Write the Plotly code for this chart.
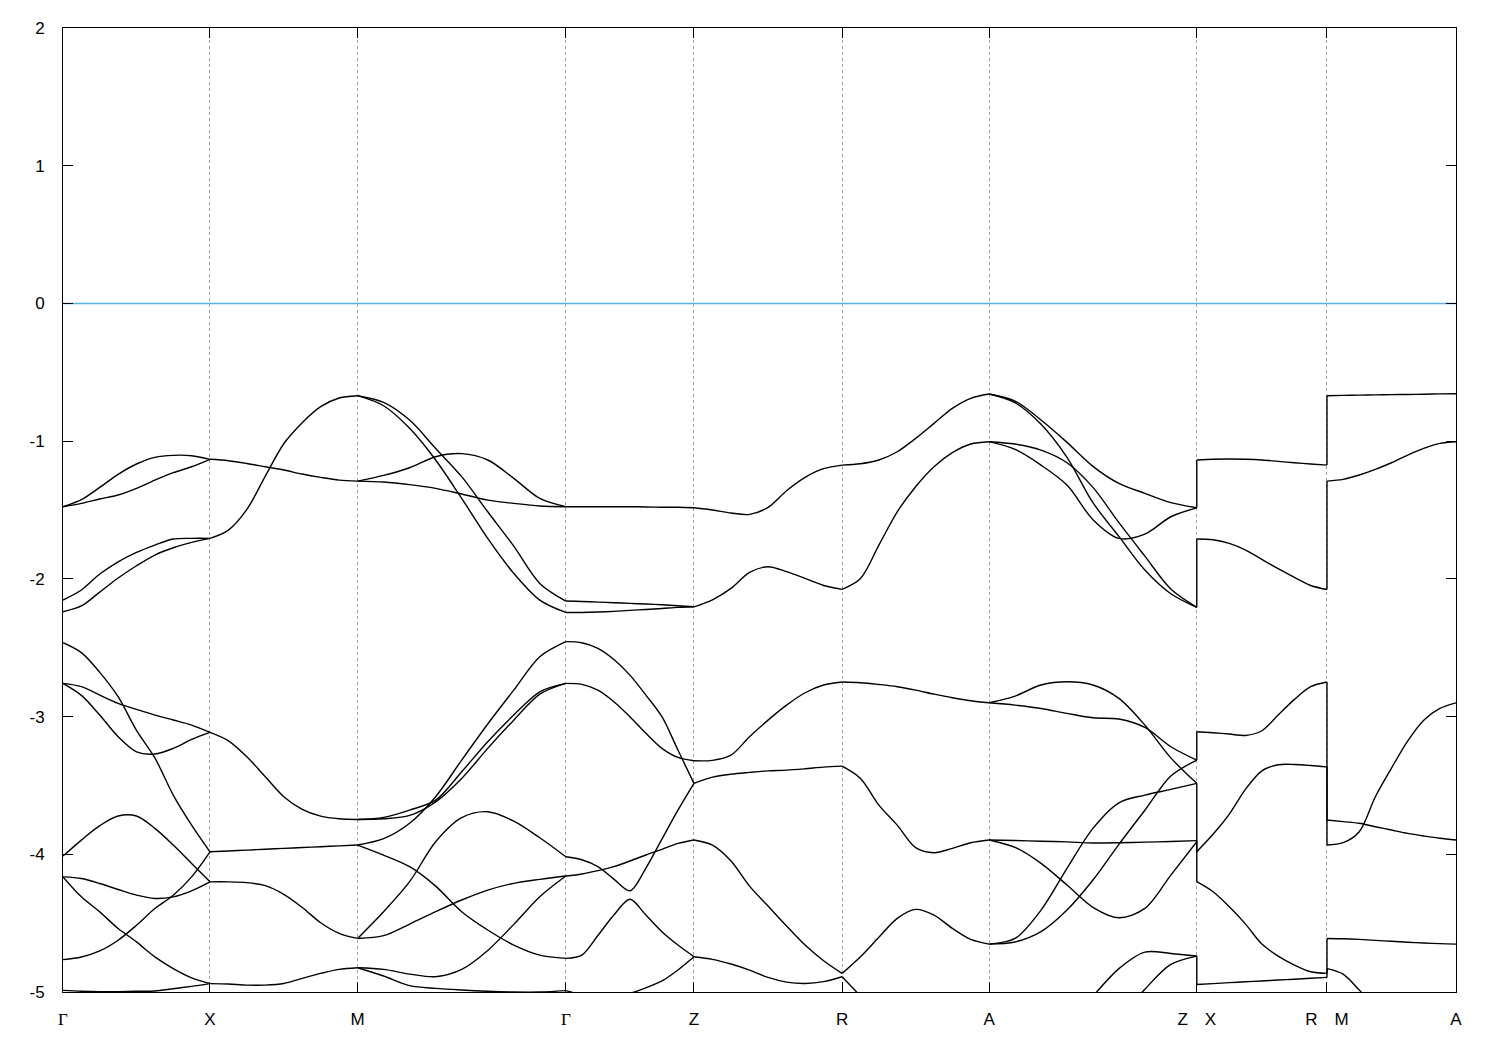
import numpy as np
import plotly.graph_objects as go

# ---- high-symmetry points along the k-path ----
kpoint_labels = ["<span style='font-family:Liberation Serif'>Γ</span>", "X", "M",
                 "<span style='font-family:Liberation Serif'>Γ</span>", "Z", "R", "A",
                 "Z\u2003X", "R\u2003M", "A"]
kpoint_pos = [0.0, 0.499, 1.0, 1.707, 2.142, 2.645, 3.144, 3.849, 4.291, 4.729]
energy_ticks = [-5, -4, -3, -2, -1, 0, 1, 2]
energy_tick_text = ["-5", "-4", "-3", "-2", "-1", "0", "1", "2"]
fermi_level = 0.0

# ---- band energies (eV), 9 evenly spaced samples per path segment ----
seg_G_X = [
    [-1.476, -1.425, -1.336, -1.241, -1.166, -1.118, -1.103, -1.106, -1.132],
    [-1.476, -1.452, -1.420, -1.391, -1.343, -1.283, -1.229, -1.186, -1.132],
    [-2.154, -2.081, -1.965, -1.876, -1.808, -1.755, -1.711, -1.706, -1.706],
    [-2.239, -2.197, -2.096, -1.994, -1.905, -1.827, -1.774, -1.735, -1.706],
    [-2.464, -2.536, -2.679, -2.856, -3.100, -3.300, -3.570, -3.788, -3.982],
    [-2.759, -2.783, -2.844, -2.904, -2.948, -2.989, -3.025, -3.062, -3.115],
    [-2.759, -2.846, -2.989, -3.146, -3.256, -3.272, -3.231, -3.166, -3.115],
    [-4.013, -3.897, -3.792, -3.722, -3.722, -3.812, -3.933, -4.067, -4.200],
    [-4.164, -4.176, -4.212, -4.256, -4.297, -4.321, -4.309, -4.265, -4.200],
    [-4.164, -4.309, -4.418, -4.539, -4.636, -4.745, -4.830, -4.897, -4.939],
    [-4.765, -4.746, -4.702, -4.624, -4.515, -4.394, -4.297, -4.164, -3.982],
    [-4.988, -4.995, -4.998, -4.997, -4.995, -4.993, -4.976, -4.959, -4.939],
]
seg_X_M = [
    [-1.132, -1.142, -1.162, -1.186, -1.210, -1.239, -1.263, -1.283, -1.290],
    [-1.706, -1.646, -1.496, -1.254, -1.019, -0.866, -0.750, -0.687, -0.670],
    [-3.115, -3.176, -3.292, -3.437, -3.582, -3.674, -3.723, -3.742, -3.747],
    [-3.982, -3.976, -3.970, -3.963, -3.957, -3.951, -3.945, -3.939, -3.933],
    [-4.200, -4.200, -4.206, -4.228, -4.291, -4.386, -4.497, -4.574, -4.611],
    [-4.939, -4.942, -4.950, -4.950, -4.938, -4.901, -4.865, -4.836, -4.824],
]
seg_M_G = [
    [-0.670, -0.718, -0.847, -1.053, -1.258, -1.513, -1.762, -2.033, -2.161],
    [-0.670, -0.743, -0.907, -1.137, -1.416, -1.706, -1.960, -2.154, -2.244],
    [-1.290, -1.249, -1.193, -1.113, -1.091, -1.137, -1.270, -1.416, -1.476],
    [-1.290, -1.297, -1.316, -1.343, -1.384, -1.428, -1.452, -1.471, -1.476],
    [-3.933, -3.887, -3.775, -3.582, -3.316, -3.054, -2.808, -2.565, -2.456],
    [-3.747, -3.732, -3.679, -3.607, -3.401, -3.183, -2.989, -2.820, -2.759],
    [-3.747, -3.742, -3.718, -3.619, -3.449, -3.231, -3.026, -2.837, -2.759],
    [-4.611, -4.417, -4.199, -3.909, -3.734, -3.691, -3.759, -3.880, -4.018],
    [-4.611, -4.591, -4.507, -4.417, -4.332, -4.260, -4.211, -4.182, -4.158],
    [-3.933, -4.006, -4.090, -4.231, -4.417, -4.550, -4.659, -4.732, -4.756],
    [-4.824, -4.836, -4.870, -4.889, -4.836, -4.698, -4.509, -4.308, -4.158],
    [-4.824, -4.884, -4.954, -4.974, -4.986, -4.995, -5.000, -5.000, -4.990],
]
seg_G_Z = [
    [-1.476, -1.476, -1.476, -1.476, -1.476, -1.478, -1.480, -1.480, -1.484],
    [-2.161, -2.164, -2.169, -2.173, -2.178, -2.183, -2.188, -2.195, -2.203],
    [-2.244, -2.244, -2.241, -2.236, -2.229, -2.222, -2.215, -2.207, -2.203],
    [-2.456, -2.464, -2.505, -2.585, -2.699, -2.844, -3.001, -3.243, -3.485],
    [-2.759, -2.766, -2.808, -2.892, -3.001, -3.122, -3.231, -3.297, -3.321],
    [-4.018, -4.040, -4.090, -4.180, -4.265, -4.100, -3.890, -3.680, -3.485],
    [-4.756, -4.732, -4.590, -4.441, -4.327, -4.441, -4.562, -4.659, -4.744],
    [-4.158, -4.143, -4.119, -4.090, -4.049, -4.005, -3.964, -3.921, -3.896],
    [-4.990, -5.020, -5.040, -5.040, -5.010, -4.970, -4.920, -4.840, -4.744],
]
seg_Z_R = [
    [-1.484, -1.500, -1.522, -1.532, -1.481, -1.360, -1.263, -1.200, -1.174],
    [-2.203, -2.152, -2.069, -1.953, -1.912, -1.948, -1.997, -2.048, -2.076],
    [-3.321, -3.318, -3.280, -3.147, -3.026, -2.917, -2.827, -2.771, -2.749],
    [-3.485, -3.440, -3.418, -3.405, -3.394, -3.389, -3.379, -3.367, -3.360],
    [-3.896, -3.933, -4.049, -4.231, -4.376, -4.521, -4.659, -4.773, -4.865],
    [-4.744, -4.763, -4.797, -4.841, -4.894, -4.928, -4.938, -4.925, -4.889],
]
seg_R_A = [
    [-1.174, -1.164, -1.137, -1.077, -0.980, -0.871, -0.762, -0.689, -0.658],
    [-2.076, -1.997, -1.755, -1.513, -1.331, -1.186, -1.084, -1.021, -1.004],
    [-2.749, -2.754, -2.767, -2.783, -2.808, -2.837, -2.863, -2.885, -2.900],
    [-3.360, -3.449, -3.643, -3.788, -3.952, -3.989, -3.957, -3.916, -3.896],
    [-4.865, -4.744, -4.603, -4.465, -4.400, -4.441, -4.538, -4.618, -4.652],
    [-4.889, -5.030, -5.170, None, None, None, None, None, None],
]
seg_A_Z = [
    [-0.658, -0.709, -0.847, -1.009, -1.183, -1.307, -1.379, -1.447, -1.484],
    [-0.658, -0.721, -0.878, -1.118, -1.447, -1.692, -1.936, -2.108, -2.207],
    [-1.004, -1.021, -1.065, -1.157, -1.336, -1.592, -1.835, -2.074, -2.207],
    [-1.004, -1.060, -1.174, -1.319, -1.570, -1.706, -1.675, -1.549, -1.484],
    [-2.900, -2.851, -2.771, -2.747, -2.771, -2.868, -3.062, -3.300, -3.485],
    [-2.900, -2.917, -2.941, -2.977, -3.009, -3.018, -3.079, -3.219, -3.316],
    [-3.896, -3.900, -3.905, -3.910, -3.918, -3.916, -3.912, -3.907, -3.901],
    [-3.896, -3.950, -4.066, -4.223, -4.385, -4.461, -4.393, -4.151, -3.909],
    [-4.652, -4.611, -4.405, -4.102, -3.812, -3.626, -3.570, -3.529, -3.485],
    [-4.652, -4.637, -4.562, -4.405, -4.187, -3.928, -3.680, -3.432, -3.316],
    [None, None, None, -5.250, -5.030, -4.830, -4.710, -4.720, -4.739],
    [None, None, None, None, None, -5.200, -4.980, -4.800, -4.739],
]
seg_X_R = [
    [-1.137, -1.132, -1.130, -1.132, -1.137, -1.147, -1.157, -1.166, -1.174],
    [-1.711, -1.716, -1.742, -1.791, -1.859, -1.926, -1.989, -2.048, -2.077],
    [-3.110, -3.118, -3.127, -3.137, -3.103, -2.989, -2.875, -2.783, -2.749],
    [-3.981, -3.855, -3.708, -3.527, -3.394, -3.350, -3.348, -3.355, -3.365],
    [-4.199, -4.272, -4.381, -4.507, -4.652, -4.739, -4.804, -4.853, -4.865],
    [-4.945, -4.939, -4.932, -4.926, -4.920, -4.913, -4.907, -4.900, -4.894],
]
seg_M_A = [
    [-0.670, -0.668, -0.666, -0.664, -0.662, -0.661, -0.659, -0.657, -0.656],
    [-1.290, -1.278, -1.246, -1.205, -1.157, -1.101, -1.052, -1.016, -1.004],
    [-3.933, -3.916, -3.836, -3.582, -3.374, -3.178, -3.026, -2.941, -2.900],
    [-3.751, -3.763, -3.775, -3.800, -3.824, -3.848, -3.867, -3.884, -3.896],
    [-4.611, -4.613, -4.618, -4.625, -4.632, -4.639, -4.644, -4.649, -4.652],
    [-4.830, -4.870, -4.986, -5.120, None, None, None, None, None],
]

# energies on both sides of the path discontinuities (Z|X and R|M)
jump_ZX = [(-1.484, -1.137), (-2.207, -1.711), (-3.316, -3.110),
           (-3.485, -3.981), (-3.901, -4.199), (-4.739, -4.945)]
jump_RM = [(-1.174, -0.670), (-2.077, -1.290), (-2.749, -3.751),
           (-3.365, -3.933), (-4.865, -4.611), (-4.894, -4.830)]

segments = [(0, 1, seg_G_X), (1, 2, seg_X_M), (2, 3, seg_M_G), (3, 4, seg_G_Z),
            (4, 5, seg_Z_R), (5, 6, seg_R_A), (6, 7, seg_A_Z), (7, 8, seg_X_R),
            (8, 9, seg_M_A)]

LINE = dict(color="black", width=1.4)
fig = go.Figure()

# Fermi level
fig.add_trace(go.Scatter(x=[kpoint_pos[0], kpoint_pos[-1]], y=[fermi_level, fermi_level],
                         mode="lines", line=dict(color="#56b4e9", width=1.6),
                         hoverinfo="skip"))

for i0, i1, bands in segments:
    for band in bands:
        ks = np.linspace(kpoint_pos[i0], kpoint_pos[i1], len(band))
        run_x, run_y = [], []
        pieces = []
        for k, e in zip(ks, band):
            if e is None:
                if len(run_x) > 1:
                    pieces.append((run_x, run_y))
                run_x, run_y = [], []
            else:
                run_x.append(k)
                run_y.append(e)
        if len(run_x) > 1:
            pieces.append((run_x, run_y))
        for px, py in pieces:
            fig.add_trace(go.Scatter(x=px, y=py, mode="lines",
                                     line=dict(shape="spline", smoothing=0.9, **LINE),
                                     hoverinfo="skip"))

for idx, jumps in ((7, jump_ZX), (8, jump_RM)):
    for e_a, e_b in jumps:
        fig.add_trace(go.Scatter(x=[kpoint_pos[idx], kpoint_pos[idx]], y=[e_a, e_b],
                                 mode="lines", line=LINE, hoverinfo="skip"))

fig.update_layout(
    width=1492, height=1042, autosize=False,
    margin=dict(l=55, r=44, t=20, b=58, pad=0),
    plot_bgcolor="white", paper_bgcolor="white",
    showlegend=False,
    font=dict(family="Liberation Sans, Arial, sans-serif", size=17, color="black"),
)
fig.update_xaxes(
    range=[kpoint_pos[0], kpoint_pos[-1]],
    tickmode="array", tickvals=kpoint_pos, ticktext=kpoint_labels,
    ticks="inside", ticklen=10, tickwidth=1, tickcolor="black",
    showline=True, linecolor="black", linewidth=1, mirror="ticks",
    showgrid=True, gridcolor="#a0a0a0", gridwidth=1, griddash="dot",
    zeroline=False, ticklabelstandoff=12,
)
fig.update_yaxes(
    range=[energy_ticks[0], energy_ticks[-1]],
    tickmode="array", tickvals=energy_ticks, ticktext=energy_tick_text,
    ticks="inside", ticklen=10, tickwidth=1, tickcolor="black",
    showline=True, linecolor="black", linewidth=1, mirror="ticks",
    showgrid=False, zeroline=False,
    ticklabelstandoff=14,
)

fig.write_html("out.html")
